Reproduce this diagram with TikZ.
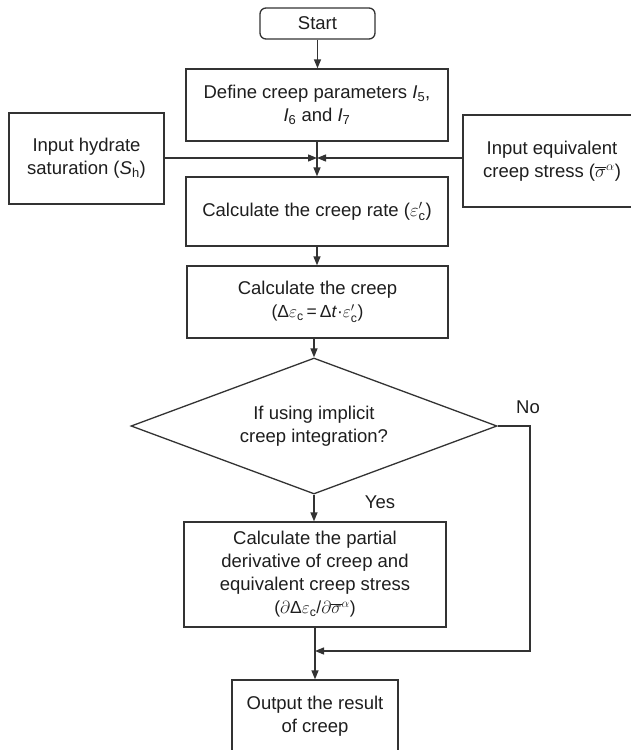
\RequirePackage{fix-cm}
\documentclass[tikz,border=0pt]{standalone}
\usepackage{amsmath}
\usepackage{fontspec}
\setmainfont{Liberation Sans}
\usetikzlibrary{arrows.meta,shapes.geometric}
\definecolor{lc}{HTML}{333333}
\definecolor{tc}{HTML}{1E1E1E}
\begin{document}
\begin{tikzpicture}[x=1pt,y=-1pt,
  box/.style={draw=lc, line width=1.3pt, rectangle, align=center, inner sep=0pt, text=tc, font=\fontsize{18.5}{23}\selectfont},
  arr/.style={draw=lc, line width=1.3pt, -{Triangle[length=9pt,width=7pt]}},
  lab/.style={text=tc, font=\fontsize{18.5}{23}\selectfont}]
\useasboundingbox (0,0) rectangle (631,750);
\fill[white] (0,0) rectangle (631,750);

\node[box, rounded corners=6pt, minimum width=115pt, minimum height=31pt] (start) at (317.5,23.5) {Start};
\node[box, minimum width=262pt, minimum height=72pt] (define) at (317,105) {Define creep parameters \textit{I}\textsubscript{5},\\ \textit{I}\textsubscript{6} and \textit{I}\textsubscript{7}};
\node[box, minimum width=155pt, minimum height=91pt] (hyd) at (86.5,158.5) {Input hydrate\\ saturation (\textit{S}\textsubscript{h})};
\node[box, minimum width=178pt, minimum height=92pt] (eqv) at (552,161) {Input equivalent\\ creep stress ($\overline{\sigma}^{\alpha}$)};
\coordinate (J) at (317,158);
\node[box, minimum width=262pt, minimum height=69pt] (rate) at (317,211.5) {Calculate the creep rate ($\varepsilon'_{\text{c}}$)};
\node[box, minimum width=261pt, minimum height=72pt] (creep) at (317.5,302) {Calculate the creep\\ {\fontsize{17.5}{21}\selectfont (Δ$\varepsilon$\textsubscript{c}\,=\,Δ\textit{t}·$\varepsilon'_{\text{c}}$)}};
\node[draw=lc, line width=1.3pt, diamond, aspect=2.7, minimum width=366pt, minimum height=136pt, inner sep=0pt, align=center, text=tc, font=\fontsize{18.5}{23}\selectfont] (dec) at (314,426) {If using implicit\\ creep integration?};
\node[lab] (no) at (528,407) {No};
\node[lab] (yes) at (380,502) {Yes};
\node[box, minimum width=262pt, minimum height=105pt] (part) at (315,574.5) {Calculate the partial\\ derivative of creep and\\ equivalent creep stress\\ {\fontsize{17.5}{21}\selectfont ($\partial$Δ$\varepsilon$\textsubscript{c}/$\partial\overline{\sigma}^{\alpha}$)}};
\node[box, minimum width=166pt, minimum height=72pt] (out) at (315,716) {Output the result\\ of creep};

\draw[arr] (start.south) -- (start.south |- define.north);
\draw[arr] (define.south) -- (define.south |- rate.north);
\draw[arr] (hyd.east |- J) -- (J);
\draw[arr] (eqv.west |- J) -- (J);
\draw[arr] (rate.south) -- (rate.south |- creep.north);
\draw[arr] (dec.north |- creep.south) -- (dec.north);
\draw[arr] (dec.south) -- (dec.south |- part.north);
\draw[arr] (part.south) -- (part.south |- out.north);
\coordinate (C) at (530,651);
\coordinate (M) at (315,651);
\draw[arr] (dec.east) -| (C) -- (M);
\end{tikzpicture}
\end{document}
